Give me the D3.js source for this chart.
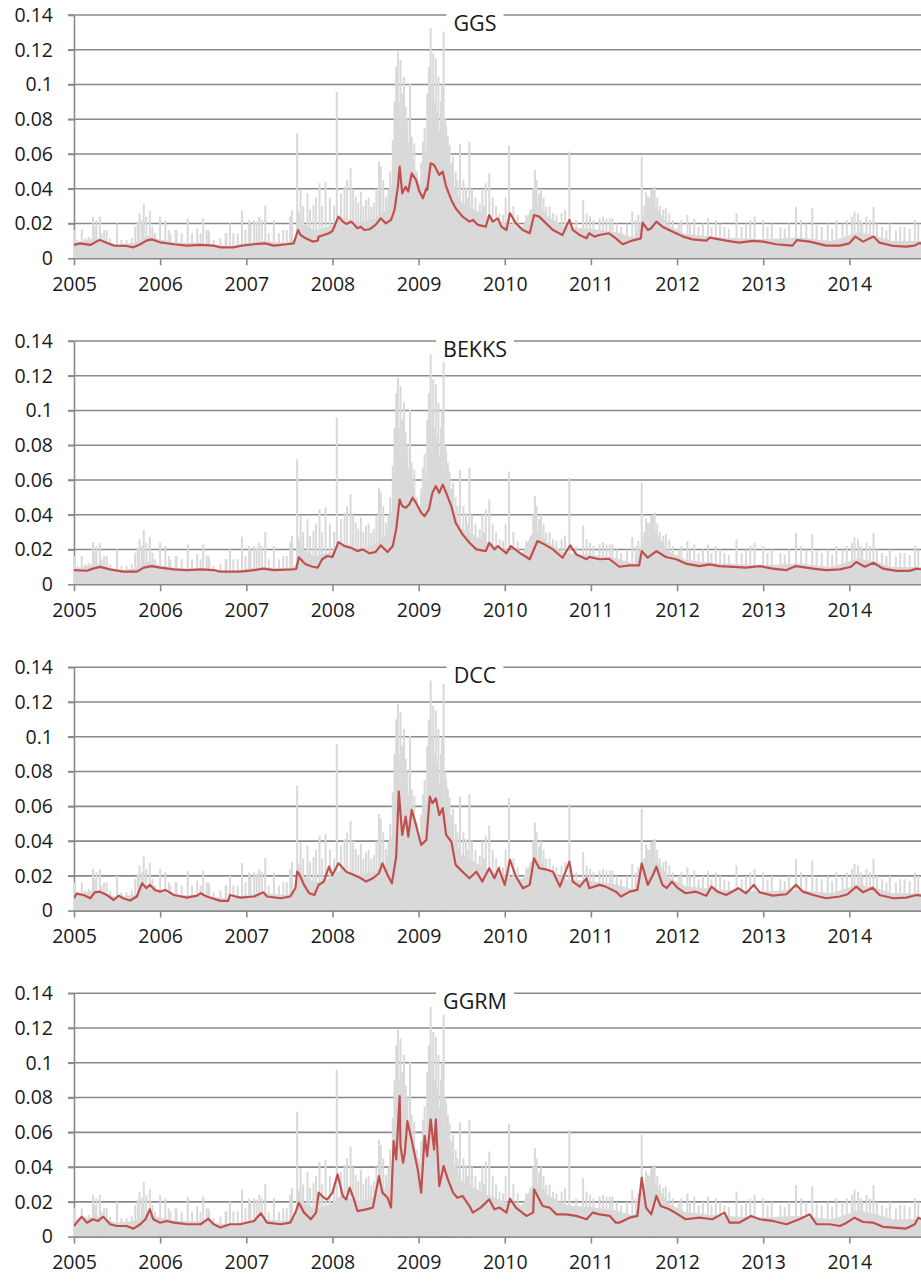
<!DOCTYPE html>
<html>
<head>
<meta charset="utf-8">
<script src="https://cdn.jsdelivr.net/npm/d3@7"></script>
<style>
  html, body { margin: 0; padding: 0; background: #fff; }
  svg { display: block; }
  text { font-family: "Open Sans", Lato, sans-serif; fill: #1a1a1a; }
</style>
</head>
<body>
<script>
// ---------------- data ----------------
const years = [2005, 2006, 2007, 2008, 2009, 2010, 2011, 2012, 2013, 2014];
const yTicks = [0, 0.02, 0.04, 0.06, 0.08, 0.1, 0.12, 0.14];
const panelTitles = ["GGS", "BEKKS", "DCC", "GGRM"];

// grey series (absolute returns): level of the dense mass, and individual daily spikes
const greyBand = [
  [2005.00,0.009],[2005.10,0.010],[2005.25,0.012],[2005.35,0.010],[2005.50,0.008],[2005.70,0.009],
  [2005.85,0.013],[2006.00,0.011],[2006.20,0.009],[2006.45,0.009],[2006.60,0.008],[2006.80,0.007],
  [2007.00,0.009],[2007.20,0.010],[2007.45,0.009],[2007.57,0.011],[2007.60,0.028],[2007.65,0.020],
  [2007.80,0.016],[2008.00,0.019],[2008.10,0.024],[2008.30,0.020],[2008.50,0.023],[2008.62,0.028],
  [2008.70,0.045],[2008.75,0.072],[2008.85,0.072],[2008.93,0.058],[2009.00,0.042],[2009.05,0.045],
  [2009.12,0.076],[2009.22,0.078],[2009.30,0.062],[2009.38,0.045],[2009.50,0.032],[2009.80,0.024],
  [2010.00,0.020],[2010.20,0.018],[2010.35,0.032],[2010.50,0.024],[2010.70,0.018],[2011.00,0.017],
  [2011.30,0.015],[2011.50,0.012],[2011.60,0.024],[2011.75,0.030],[2011.90,0.019],[2012.10,0.014],
  [2012.50,0.012],[2013.00,0.011],[2013.40,0.012],[2013.80,0.010],[2014.10,0.015],[2014.30,0.013],
  [2014.50,0.010],[2014.84,0.010]
];
const greySpikes = [
  [2005.01,0.0163],[2005.04,0.0105],[2005.09,0.0163],[2005.13,0.0115],[2005.17,0.0125],[2005.22,0.0240],
  [2005.24,0.0182],[2005.26,0.0220],[2005.30,0.0240],[2005.32,0.0144],[2005.35,0.0163],[2005.38,0.0163],
  [2005.42,0.0115],[2005.50,0.0201],[2005.55,0.0105],[2005.61,0.0105],[2005.67,0.0115],[2005.71,0.0182],
  [2005.74,0.0211],[2005.76,0.0259],[2005.79,0.0221],[2005.81,0.0313],[2005.84,0.0240],[2005.88,0.0274],
  [2005.91,0.0182],[2005.94,0.0144],[2006.00,0.0240],[2006.06,0.0220],[2006.10,0.0163],[2006.12,0.0144],
  [2006.18,0.0163],[2006.19,0.0163],[2006.25,0.0144],[2006.32,0.0230],[2006.37,0.0144],[2006.43,0.0173],
  [2006.47,0.0144],[2006.50,0.0230],[2006.54,0.0163],[2006.56,0.0163],[2006.57,0.0144],[2006.62,0.0105],
  [2006.70,0.0115],[2006.76,0.0144],[2006.77,0.0144],[2006.81,0.0201],[2006.85,0.0144],[2006.90,0.0144],
  [2006.95,0.0274],[2006.99,0.0163],[2007.03,0.0220],[2007.05,0.0201],[2007.09,0.0220],[2007.12,0.0211],
  [2007.15,0.0240],[2007.18,0.0221],[2007.22,0.0303],[2007.26,0.0144],[2007.32,0.0220],[2007.38,0.0144],
  [2007.43,0.0163],[2007.47,0.0163],[2007.51,0.0240],[2007.53,0.0278],[2007.59,0.0719],[2007.63,0.0393],
  [2007.66,0.0300],[2007.71,0.0374],[2007.74,0.0280],[2007.78,0.0307],[2007.81,0.0350],[2007.85,0.0432],
  [2007.88,0.0300],[2007.92,0.0441],[2007.97,0.0350],[2008.02,0.0300],[2008.05,0.0959],[2008.10,0.0374],
  [2008.14,0.0412],[2008.17,0.0450],[2008.21,0.0518],[2008.24,0.0400],[2008.27,0.0355],[2008.30,0.0320],
  [2008.33,0.0384],[2008.36,0.0300],[2008.39,0.0336],[2008.42,0.0350],[2008.45,0.0297],[2008.48,0.0320],
  [2008.51,0.0400],[2008.54,0.0556],[2008.56,0.0527],[2008.59,0.0450],[2008.62,0.0355],[2008.65,0.0400],
  [2008.67,0.0500],[2008.70,0.0681],[2008.72,0.0900],[2008.74,0.1100],[2008.76,0.1189],[2008.77,0.0900],
  [2008.79,0.1141],[2008.81,0.0950],[2008.83,0.1045],[2008.85,0.0873],[2008.87,0.0800],[2008.90,0.1007],
  [2008.92,0.0700],[2008.95,0.0662],[2008.98,0.0500],[2009.00,0.0450],[2009.03,0.0550],[2009.05,0.0671],
  [2009.07,0.0750],[2009.09,0.0604],[2009.10,0.0949],[2009.12,0.1100],[2009.14,0.1323],[2009.16,0.1000],
  [2009.17,0.1180],[2009.19,0.0900],[2009.20,0.1151],[2009.22,0.0850],[2009.23,0.1045],[2009.26,0.0900],
  [2009.27,0.1000],[2009.29,0.1304],[2009.31,0.0800],[2009.32,0.0758],[2009.34,0.0700],[2009.36,0.0650],
  [2009.38,0.0550],[2009.40,0.0585],[2009.43,0.0500],[2009.45,0.0450],[2009.48,0.0656],[2009.52,0.0450],
  [2009.55,0.0412],[2009.57,0.0350],[2009.59,0.0671],[2009.62,0.0400],[2009.66,0.0350],[2009.71,0.0316],
  [2009.74,0.0400],[2009.76,0.0300],[2009.78,0.0432],[2009.82,0.0489],[2009.86,0.0350],[2009.90,0.0300],
  [2009.94,0.0259],[2009.98,0.0250],[2010.01,0.0350],[2010.05,0.0648],[2010.10,0.0300],[2010.15,0.0250],
  [2010.25,0.0250],[2010.30,0.0280],[2010.33,0.0403],[2010.35,0.0508],[2010.37,0.0450],[2010.40,0.0374],
  [2010.42,0.0400],[2010.45,0.0350],[2010.48,0.0297],[2010.52,0.0300],[2010.56,0.0259],[2010.60,0.0250],
  [2010.66,0.0259],[2010.70,0.0280],[2010.75,0.0614],[2010.83,0.0220],[2010.91,0.0336],[2010.95,0.0259],
  [2010.99,0.0240],[2011.03,0.0220],[2011.10,0.0230],[2011.14,0.0240],[2011.18,0.0230],[2011.22,0.0230],
  [2011.25,0.0230],[2011.30,0.0200],[2011.35,0.0180],[2011.42,0.0200],[2011.48,0.0269],[2011.52,0.0220],
  [2011.55,0.0250],[2011.59,0.0585],[2011.62,0.0300],[2011.64,0.0380],[2011.66,0.0355],[2011.68,0.0350],
  [2011.70,0.0393],[2011.72,0.0400],[2011.74,0.0412],[2011.77,0.0350],[2011.80,0.0300],[2011.84,0.0280],
  [2011.87,0.0288],[2011.91,0.0259],[2011.95,0.0220],[2012.02,0.0200],[2012.05,0.0220],[2012.12,0.0249],
  [2012.15,0.0200],[2012.20,0.0230],[2012.25,0.0180],[2012.30,0.0200],[2012.36,0.0230],[2012.40,0.0180],
  [2012.45,0.0220],[2012.50,0.0200],[2012.55,0.0180],[2012.60,0.0170],[2012.69,0.0259],[2012.75,0.0180],
  [2012.80,0.0200],[2012.85,0.0220],[2012.90,0.0240],[2013.00,0.0220],[2013.05,0.0180],[2013.10,0.0200],
  [2013.20,0.0180],[2013.25,0.0170],[2013.30,0.0200],[2013.38,0.0297],[2013.44,0.0220],[2013.50,0.0200],
  [2013.57,0.0288],[2013.62,0.0190],[2013.68,0.0180],[2013.75,0.0200],[2013.80,0.0170],[2013.85,0.0220],
  [2013.92,0.0200],[2013.97,0.0220],[2014.03,0.0240],[2014.06,0.0269],[2014.10,0.0259],[2014.13,0.0220],
  [2014.15,0.0200],[2014.20,0.0240],[2014.24,0.0220],[2014.28,0.0297],[2014.32,0.0200],[2014.38,0.0180],
  [2014.43,0.0163],[2014.47,0.0200],[2014.54,0.0160],[2014.59,0.0182],[2014.64,0.0180],[2014.70,0.0170],
  [2014.76,0.0220],[2014.80,0.0200]
];

// red series: model volatility estimates
const ggs = [
  [2005.00,0.0077],[2005.07,0.0086],[2005.19,0.0077],[2005.26,0.0096],[2005.30,0.0105],[2005.38,0.0090],
  [2005.46,0.0073],[2005.61,0.0071],[2005.69,0.0063],[2005.77,0.0081],[2005.84,0.0102],[2005.90,0.0109],
  [2006.00,0.0092],[2006.16,0.0081],[2006.31,0.0073],[2006.47,0.0077],[2006.62,0.0073],[2006.70,0.0063],
  [2006.85,0.0063],[2006.93,0.0071],[2007.09,0.0081],[2007.22,0.0086],[2007.32,0.0073],[2007.47,0.0081],
  [2007.55,0.0086],[2007.60,0.0163],[2007.63,0.0134],[2007.69,0.0115],[2007.77,0.0096],[2007.83,0.0102],
  [2007.84,0.0125],[2007.90,0.0134],[2007.96,0.0144],[2008.00,0.0157],[2008.07,0.0240],[2008.12,0.0211],
  [2008.16,0.0198],[2008.22,0.0211],[2008.29,0.0173],[2008.33,0.0182],[2008.37,0.0163],[2008.43,0.0167],
  [2008.50,0.0192],[2008.56,0.0230],[2008.62,0.0201],[2008.68,0.0221],[2008.72,0.0278],[2008.76,0.0412],
  [2008.78,0.0527],[2008.81,0.0374],[2008.85,0.0412],[2008.88,0.0384],[2008.92,0.0489],[2008.97,0.0451],
  [2009.01,0.0384],[2009.05,0.0345],[2009.09,0.0403],[2009.10,0.0393],[2009.14,0.0547],[2009.18,0.0537],
  [2009.21,0.0508],[2009.24,0.0480],[2009.28,0.0499],[2009.32,0.0412],[2009.38,0.0336],[2009.43,0.0288],
  [2009.51,0.0240],[2009.59,0.0211],[2009.63,0.0221],[2009.69,0.0192],[2009.78,0.0182],[2009.82,0.0249],
  [2009.86,0.0211],[2009.92,0.0230],[2009.96,0.0182],[2010.02,0.0163],[2010.06,0.0259],[2010.13,0.0201],
  [2010.21,0.0163],[2010.29,0.0144],[2010.34,0.0249],[2010.40,0.0240],[2010.48,0.0201],[2010.56,0.0163],
  [2010.67,0.0134],[2010.75,0.0221],[2010.79,0.0163],[2010.87,0.0134],[2010.95,0.0115],[2010.98,0.0144],
  [2011.04,0.0125],[2011.10,0.0134],[2011.21,0.0144],[2011.29,0.0115],[2011.37,0.0081],[2011.48,0.0102],
  [2011.58,0.0115],[2011.60,0.0205],[2011.66,0.0163],[2011.70,0.0173],[2011.76,0.0211],[2011.83,0.0182],
  [2011.95,0.0153],[2012.07,0.0125],[2012.18,0.0109],[2012.34,0.0102],[2012.38,0.0119],[2012.43,0.0115],
  [2012.57,0.0102],[2012.72,0.0090],[2012.88,0.0100],[2013.00,0.0096],[2013.15,0.0081],[2013.34,0.0073],
  [2013.39,0.0105],[2013.54,0.0096],[2013.73,0.0073],[2013.89,0.0073],[2014.00,0.0086],[2014.07,0.0125],
  [2014.16,0.0096],[2014.28,0.0125],[2014.35,0.0090],[2014.51,0.0071],[2014.66,0.0067],[2014.76,0.0073],
  [2014.80,0.0086],[2014.84,0.0086]
];
const bekks = [
  [2005.00,0.0082],[2005.15,0.0078],[2005.22,0.0090],[2005.30,0.0100],[2005.42,0.0086],[2005.57,0.0073],
  [2005.73,0.0073],[2005.81,0.0096],[2005.90,0.0105],[2006.00,0.0096],[2006.16,0.0086],[2006.31,0.0082],
  [2006.47,0.0086],[2006.62,0.0082],[2006.70,0.0073],[2006.93,0.0073],[2007.09,0.0082],[2007.20,0.0090],
  [2007.32,0.0082],[2007.53,0.0086],[2007.58,0.0088],[2007.61,0.0155],[2007.67,0.0124],[2007.69,0.0115],
  [2007.77,0.0101],[2007.83,0.0096],[2007.88,0.0144],[2007.94,0.0163],[2008.00,0.0157],[2008.07,0.0243],
  [2008.14,0.0220],[2008.21,0.0211],[2008.29,0.0191],[2008.35,0.0201],[2008.43,0.0178],[2008.50,0.0186],
  [2008.56,0.0224],[2008.64,0.0186],[2008.70,0.0220],[2008.74,0.0316],[2008.78,0.0488],[2008.81,0.0450],
  [2008.85,0.0440],[2008.89,0.0459],[2008.93,0.0498],[2008.97,0.0469],[2009.03,0.0412],[2009.07,0.0392],
  [2009.12,0.0431],[2009.16,0.0526],[2009.20,0.0565],[2009.24,0.0526],[2009.28,0.0574],[2009.32,0.0526],
  [2009.38,0.0450],[2009.43,0.0354],[2009.51,0.0287],[2009.59,0.0239],[2009.67,0.0201],[2009.78,0.0191],
  [2009.82,0.0239],[2009.88,0.0201],[2009.92,0.0220],[2010.02,0.0178],[2010.07,0.0220],[2010.17,0.0182],
  [2010.29,0.0144],[2010.38,0.0249],[2010.46,0.0230],[2010.56,0.0201],[2010.67,0.0153],[2010.76,0.0224],
  [2010.83,0.0172],[2010.95,0.0144],[2010.98,0.0157],[2011.10,0.0144],[2011.21,0.0147],[2011.33,0.0101],
  [2011.45,0.0109],[2011.56,0.0109],[2011.59,0.0191],[2011.66,0.0153],[2011.76,0.0191],[2011.87,0.0157],
  [2011.99,0.0144],[2012.10,0.0119],[2012.26,0.0105],[2012.38,0.0115],[2012.49,0.0105],[2012.65,0.0100],
  [2012.80,0.0096],[2012.96,0.0105],[2013.11,0.0090],[2013.27,0.0082],[2013.38,0.0105],[2013.58,0.0090],
  [2013.73,0.0082],[2013.89,0.0086],[2014.02,0.0101],[2014.08,0.0128],[2014.18,0.0101],[2014.28,0.0124],
  [2014.39,0.0090],[2014.55,0.0077],[2014.70,0.0077],[2014.78,0.0090],[2014.84,0.0086]
];
const dcc = [
  [2005.00,0.0071],[2005.03,0.0098],[2005.11,0.0090],[2005.19,0.0071],[2005.24,0.0105],[2005.30,0.0109],
  [2005.38,0.0090],[2005.46,0.0061],[2005.52,0.0086],[2005.57,0.0071],[2005.65,0.0058],[2005.73,0.0081],
  [2005.79,0.0157],[2005.84,0.0129],[2005.88,0.0148],[2005.94,0.0119],[2006.00,0.0109],[2006.06,0.0119],
  [2006.16,0.0090],[2006.31,0.0075],[2006.43,0.0086],[2006.47,0.0100],[2006.54,0.0081],[2006.70,0.0056],
  [2006.79,0.0056],[2006.81,0.0090],[2006.93,0.0075],[2007.09,0.0081],[2007.20,0.0105],[2007.24,0.0081],
  [2007.40,0.0071],[2007.51,0.0081],[2007.57,0.0129],[2007.59,0.0224],[2007.61,0.0215],[2007.67,0.0148],
  [2007.73,0.0100],[2007.79,0.0090],[2007.84,0.0148],[2007.90,0.0167],[2007.96,0.0253],[2008.00,0.0205],
  [2008.07,0.0272],[2008.16,0.0224],[2008.25,0.0205],[2008.33,0.0186],[2008.39,0.0167],[2008.47,0.0186],
  [2008.54,0.0215],[2008.58,0.0272],[2008.64,0.0205],[2008.69,0.0157],[2008.74,0.0311],[2008.77,0.0685],
  [2008.81,0.0435],[2008.85,0.0541],[2008.88,0.0426],[2008.92,0.0579],[2008.97,0.0493],[2009.03,0.0378],
  [2009.09,0.0407],[2009.13,0.0656],[2009.16,0.0618],[2009.20,0.0646],[2009.24,0.0550],[2009.28,0.0589],
  [2009.32,0.0435],[2009.38,0.0397],[2009.43,0.0263],[2009.51,0.0224],[2009.59,0.0186],[2009.67,0.0224],
  [2009.74,0.0167],[2009.82,0.0244],[2009.88,0.0186],[2009.93,0.0244],[2010.00,0.0148],[2010.06,0.0292],
  [2010.13,0.0196],[2010.21,0.0129],[2010.29,0.0148],[2010.34,0.0301],[2010.40,0.0244],[2010.50,0.0234],
  [2010.56,0.0224],[2010.64,0.0138],[2010.75,0.0282],[2010.79,0.0167],[2010.87,0.0138],[2010.95,0.0186],
  [2010.98,0.0129],[2011.10,0.0148],[2011.17,0.0138],[2011.29,0.0109],[2011.35,0.0081],[2011.45,0.0109],
  [2011.54,0.0119],[2011.59,0.0272],[2011.66,0.0148],[2011.72,0.0205],[2011.76,0.0253],[2011.83,0.0148],
  [2011.88,0.0129],[2011.94,0.0167],[2012.01,0.0129],[2012.10,0.0100],[2012.22,0.0109],[2012.34,0.0086],
  [2012.40,0.0138],[2012.47,0.0109],[2012.57,0.0090],[2012.71,0.0129],[2012.80,0.0100],[2012.89,0.0148],
  [2012.96,0.0105],[2013.11,0.0086],[2013.27,0.0094],[2013.38,0.0148],[2013.46,0.0109],[2013.58,0.0090],
  [2013.73,0.0071],[2013.89,0.0081],[2013.98,0.0094],[2014.08,0.0138],[2014.16,0.0105],[2014.27,0.0132],
  [2014.35,0.0090],[2014.51,0.0071],[2014.66,0.0075],[2014.78,0.0090],[2014.84,0.0086]
];
const ggrm = [
  [2005.00,0.0061],[2005.03,0.0080],[2005.09,0.0115],[2005.15,0.0080],[2005.22,0.0100],[2005.28,0.0090],
  [2005.34,0.0115],[2005.42,0.0071],[2005.50,0.0061],[2005.61,0.0061],[2005.69,0.0046],[2005.77,0.0071],
  [2005.83,0.0100],[2005.88,0.0157],[2005.92,0.0100],[2006.00,0.0080],[2006.08,0.0090],[2006.16,0.0080],
  [2006.31,0.0071],[2006.47,0.0071],[2006.56,0.0103],[2006.62,0.0071],[2006.70,0.0052],[2006.81,0.0071],
  [2006.93,0.0071],[2007.09,0.0090],[2007.17,0.0134],[2007.24,0.0080],[2007.40,0.0071],[2007.51,0.0080],
  [2007.57,0.0138],[2007.61,0.0195],[2007.67,0.0138],[2007.75,0.0100],[2007.81,0.0138],[2007.84,0.0253],
  [2007.90,0.0224],[2007.94,0.0214],[2008.00,0.0253],[2008.06,0.0358],[2008.12,0.0234],[2008.16,0.0214],
  [2008.20,0.0281],[2008.25,0.0214],[2008.29,0.0147],[2008.39,0.0157],[2008.47,0.0167],[2008.54,0.0348],
  [2008.58,0.0253],[2008.64,0.0224],[2008.68,0.0167],[2008.71,0.0549],[2008.74,0.0444],[2008.78,0.0808],
  [2008.79,0.0521],[2008.82,0.0425],[2008.84,0.0482],[2008.87,0.0664],[2008.91,0.0578],[2008.95,0.0482],
  [2008.99,0.0387],[2009.03,0.0253],[2009.07,0.0578],[2009.10,0.0463],[2009.14,0.0674],[2009.18,0.0501],
  [2009.20,0.0674],[2009.24,0.0291],[2009.29,0.0406],[2009.34,0.0329],[2009.40,0.0253],[2009.45,0.0224],
  [2009.51,0.0234],[2009.59,0.0176],[2009.63,0.0138],[2009.72,0.0167],[2009.82,0.0214],[2009.88,0.0157],
  [2009.94,0.0167],[2010.02,0.0138],[2010.06,0.0218],[2010.13,0.0167],[2010.25,0.0119],[2010.33,0.0138],
  [2010.34,0.0272],[2010.38,0.0234],[2010.44,0.0176],[2010.52,0.0167],[2010.60,0.0128],[2010.71,0.0128],
  [2010.83,0.0119],[2010.95,0.0100],[2011.02,0.0138],[2011.10,0.0128],[2011.22,0.0119],[2011.29,0.0080],
  [2011.33,0.0080],[2011.45,0.0109],[2011.54,0.0119],[2011.59,0.0339],[2011.64,0.0167],[2011.70,0.0128],
  [2011.76,0.0234],[2011.81,0.0176],[2011.91,0.0157],[2012.01,0.0128],[2012.10,0.0100],[2012.26,0.0109],
  [2012.41,0.0100],[2012.55,0.0138],[2012.61,0.0080],[2012.72,0.0080],[2012.86,0.0119],[2012.96,0.0100],
  [2013.11,0.0090],[2013.27,0.0071],[2013.42,0.0100],[2013.54,0.0128],[2013.62,0.0071],[2013.77,0.0071],
  [2013.89,0.0061],[2013.97,0.0080],[2014.06,0.0109],[2014.16,0.0084],[2014.28,0.0080],[2014.39,0.0056],
  [2014.51,0.0052],[2014.66,0.0046],[2014.76,0.0071],[2014.80,0.0109],[2014.84,0.0100]
];
const redSeries = [ggs, bekks, dcc, ggrm];

// ---------------- drawing ----------------
const W = 921, H = 1283;
const left = 74, right = 921;
const panelTop = [15, 341, 667.3, 993.3];
const panelH = 243.3;
const xEnd = 2005 + (right - left) / 86.15;

const svg = d3.select("body").append("svg").attr("width", W).attr("height", H);
const x = d3.scaleLinear().domain([2005, xEnd]).range([left, right]);

svg.append("defs").append("clipPath").attr("id", "clip")
  .append("rect").attr("x", left).attr("y", 0).attr("width", right - left).attr("height", H);

const gridColor = "#8a8a8a";

panelTitles.forEach((title, i) => {
  const top = panelTop[i];
  const y = d3.scaleLinear().domain([0, 0.14]).range([top + panelH, top]);
  const g = svg.append("g");

  // horizontal gridlines (extending left as the tick marks)
  g.append("g").selectAll("line").data(yTicks.filter(d => d > 0)).join("line")
    .attr("x1", left - 6).attr("x2", right)
    .attr("y1", d => y(d)).attr("y2", d => y(d))
    .attr("stroke", gridColor).attr("stroke-width", 1.6);

  // y axis
  const ya = g.append("g").attr("transform", `translate(${left},0)`)
    .call(d3.axisLeft(y).tickValues(yTicks)
      .tickFormat(d => d === 0 ? "0" : d3.format(".2~f")(d))
      .tickSize(6).tickPadding(15).tickSizeOuter(0));
  ya.select(".domain").attr("stroke", gridColor).attr("stroke-width", 1.6);
  ya.selectAll(".tick line").attr("stroke", gridColor).attr("stroke-width", 1.6);
  ya.selectAll("text").style("font-size", "19.5px").attr("fill", "#1a1a1a");

  // grey series
  const gg = g.append("g").attr("clip-path", "url(#clip)");
  gg.append("path").datum(greyBand)
    .attr("fill", "#d9d9d9")
    .attr("d", d3.area().x(d => x(d[0])).y0(y(0)).y1(d => y(d[1])));
  gg.selectAll("line.spike").data(greySpikes).join("line").attr("class", "spike")
    .attr("x1", d => x(d[0])).attr("x2", d => x(d[0]))
    .attr("y1", y(0)).attr("y2", d => y(d[1]))
    .attr("stroke", "#d9d9d9").attr("stroke-width", 2);

  // x axis
  const xa = g.append("g").attr("transform", `translate(0,${y(0)})`)
    .call(d3.axisBottom(x).tickValues(years).tickFormat(d3.format("d"))
      .tickSize(7).tickPadding(12).tickSizeOuter(0));
  xa.select(".domain").attr("stroke", gridColor).attr("stroke-width", 1.6);
  xa.selectAll(".tick line").attr("stroke", gridColor).attr("stroke-width", 1.6);
  xa.selectAll("text").style("font-size", "19.5px").attr("fill", "#1a1a1a");

  // red series
  g.append("path").datum(redSeries[i])
    .attr("clip-path", "url(#clip)")
    .attr("fill", "none").attr("stroke", "#c0504d").attr("stroke-width", 2.2)
    .attr("stroke-linejoin", "round")
    .attr("d", d3.line().x(d => x(d[0])).y(d => y(d[1])));

  // title in a white box over the top gridline
  const tg = g.append("g");
  const rect = tg.append("rect").attr("fill", "#fff");
  const t = tg.append("text").attr("x", 475).attr("y", top + 15.5)
    .attr("text-anchor", "middle").style("font-size", "21.5px").text(title);
  const bb = t.node().getBBox();
  rect.attr("x", bb.x - 7).attr("y", top - 7).attr("width", bb.width + 14).attr("height", 28);
});
</script>
</body>
</html>
